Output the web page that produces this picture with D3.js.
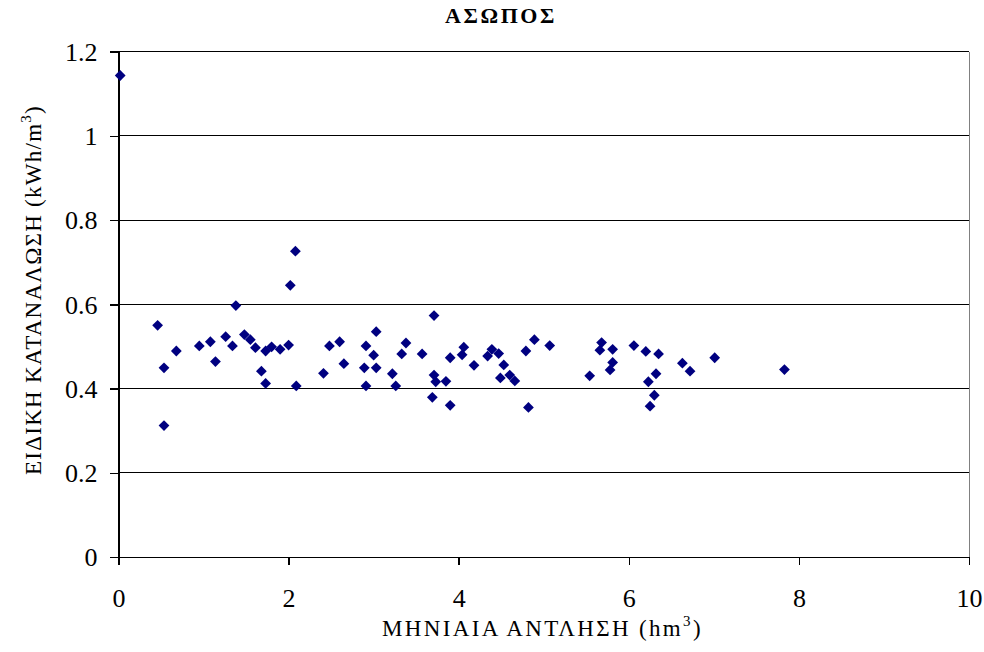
<!DOCTYPE html>
<html>
<head>
<meta charset="utf-8">
<script src="https://cdn.jsdelivr.net/npm/d3@7"></script>
<style>
  html, body { margin: 0; padding: 0; background: #fff; }
  svg { display: block; }
</style>
</head>
<body>
<svg id="chart" width="984" height="652"></svg>
<script>
// Monthly pumping volume (hm³)
const pumping = [
  0.02, 0.46, 0.535, 0.535, 0.68, 0.95, 1.08, 1.14, 1.26, 1.34,
  1.38, 1.48, 1.55, 1.61, 1.68, 1.73, 1.73, 1.80, 1.90, 2.00,
  2.02, 2.08, 2.09, 2.41, 2.48, 2.60, 2.65, 2.89, 2.91, 2.91,
  3.00, 3.03, 3.03, 3.22, 3.26, 3.33, 3.38, 3.57, 3.69, 3.71,
  3.71, 3.73, 3.85, 3.90, 3.90, 4.04, 4.06, 4.18, 4.34, 4.39,
  4.47, 4.49, 4.53, 4.60, 4.66, 4.79, 4.82, 4.89, 5.07, 5.54,
  5.66, 5.68, 5.78, 5.81, 5.81, 6.06, 6.20, 6.23, 6.25, 6.30,
  6.32, 6.35, 6.63, 6.72, 7.01, 7.83
];
// Specific energy consumption (kWh/m³)
const consumption = [
  1.143, 0.550, 0.449, 0.312, 0.489, 0.501, 0.511, 0.464, 0.523, 0.501,
  0.597, 0.528, 0.516, 0.497, 0.441, 0.489, 0.412, 0.499, 0.493, 0.503,
  0.645, 0.726, 0.406, 0.436, 0.501, 0.511, 0.459, 0.449, 0.501, 0.406,
  0.479, 0.535, 0.449, 0.435, 0.406, 0.482, 0.508, 0.482, 0.379, 0.573,
  0.432, 0.416, 0.417, 0.360, 0.473, 0.480, 0.498, 0.455, 0.477, 0.493,
  0.483, 0.425, 0.456, 0.432, 0.418, 0.489, 0.355, 0.516, 0.502, 0.430,
  0.491, 0.509, 0.444, 0.493, 0.462, 0.502, 0.488, 0.416, 0.358, 0.384,
  0.435, 0.482, 0.460, 0.441, 0.473, 0.445
];
const xTicks = [0, 2, 4, 6, 8, 10];
const yTicks = [0, 0.2, 0.4, 0.6, 0.8, 1, 1.2];

const title = "ΑΣΩΠΟΣ";
const xLabel = "ΜΗΝΙΑΙΑ ΑΝΤΛΗΣΗ (hm";
const yLabel = "ΕΙΔΙΚΗ ΚΑΤΑΝΑΛΩΣΗ (kWh/m";

const FONT = "Liberation Serif";

const svg = d3.select("#chart");
const plotLeft = 118.5, plotRight = 969, plotTop = 51.5, plotBottom = 557;

const x = d3.scaleLinear().domain([0, 10]).range([plotLeft, plotRight]);
const y = d3.scaleLinear().domain([0, 1.2]).range([plotBottom, plotTop]);

// horizontal gridlines
svg.append("g")
  .selectAll("line")
  .data(yTicks)
  .join("line")
  .attr("x1", plotLeft).attr("x2", plotRight)
  .attr("y1", d => y(d)).attr("y2", d => y(d))
  .attr("stroke", "#000").attr("stroke-width", 1)
  .attr("shape-rendering", "crispEdges");

// right border of plot area
svg.append("line")
  .attr("x1", plotRight).attr("x2", plotRight)
  .attr("y1", plotTop).attr("y2", plotBottom)
  .attr("stroke", "#808080").attr("stroke-width", 1)
  .attr("shape-rendering", "crispEdges");

// axes
const xAxis = d3.axisBottom(x).tickValues(xTicks).tickFormat(d3.format("d"))
  .tickSizeInner(8).tickSizeOuter(0).tickPadding(13);
const yAxis = d3.axisLeft(y).tickValues(yTicks)
  .tickFormat(d => (d === 0 || d === 1) ? String(d) : d3.format(".1f")(d))
  .tickSizeInner(9).tickSizeOuter(0).tickPadding(12);

const gx = svg.append("g").attr("transform", `translate(0,${plotBottom})`).call(xAxis);
const gy = svg.append("g").attr("transform", `translate(${plotLeft},0)`).call(yAxis);
[gx, gy].forEach(g => {
  g.attr("font-family", FONT).attr("font-size", 26);
  g.selectAll("path, line").attr("stroke", "#000").attr("stroke-width", 1.5).attr("shape-rendering", "crispEdges");
  g.selectAll("text").attr("fill", "#000");
});
gx.selectAll("text").attr("dy", null).attr("y", 50);
gy.selectAll("text").attr("dy", "0.34em");

// data points as diamonds
const diamond = d3.symbol().type(d3.symbolDiamond2).size(74);
svg.append("g")
  .selectAll("path")
  .data(pumping.map((v, i) => [v, consumption[i]]))
  .join("path")
  .attr("d", diamond)
  .attr("transform", d => `translate(${x(d[0])},${y(d[1])})`)
  .attr("fill", "#000080");

// stretch a text element's letter spacing so it spans the given width
function fitWidth(sel, width) {
  const n = sel.text().length;
  const w = sel.node().getComputedTextLength();
  const extra = Math.max(0, (width - w) / n);
  sel.attr("letter-spacing", extra);
}

// title
const tt = svg.append("text")
  .attr("x", 501).attr("y", 23)
  .attr("text-anchor", "middle")
  .attr("font-family", FONT).attr("font-size", 22).attr("font-weight", "bold")
  .text(title);
fitWidth(tt, 112);

// x-axis label with superscript
const xt = svg.append("text")
  .attr("x", 542.5).attr("y", 636)
  .attr("text-anchor", "middle")
  .attr("font-family", FONT).attr("font-size", 23);
xt.append("tspan").text(xLabel);
xt.append("tspan").attr("dy", -10).attr("font-size", 15).text("3");
xt.append("tspan").attr("dy", 10).text(")");
fitWidth(xt, 321);

// y-axis label, rotated, with superscript
const yt = svg.append("text")
  .attr("transform", "translate(41,290) rotate(-90)")
  .attr("text-anchor", "middle")
  .attr("font-family", FONT).attr("font-size", 23);
yt.append("tspan").text(yLabel);
yt.append("tspan").attr("dy", -10).attr("font-size", 15).text("3");
yt.append("tspan").attr("dy", 10).text(")");
fitWidth(yt, 370);
</script>
</body>
</html>
